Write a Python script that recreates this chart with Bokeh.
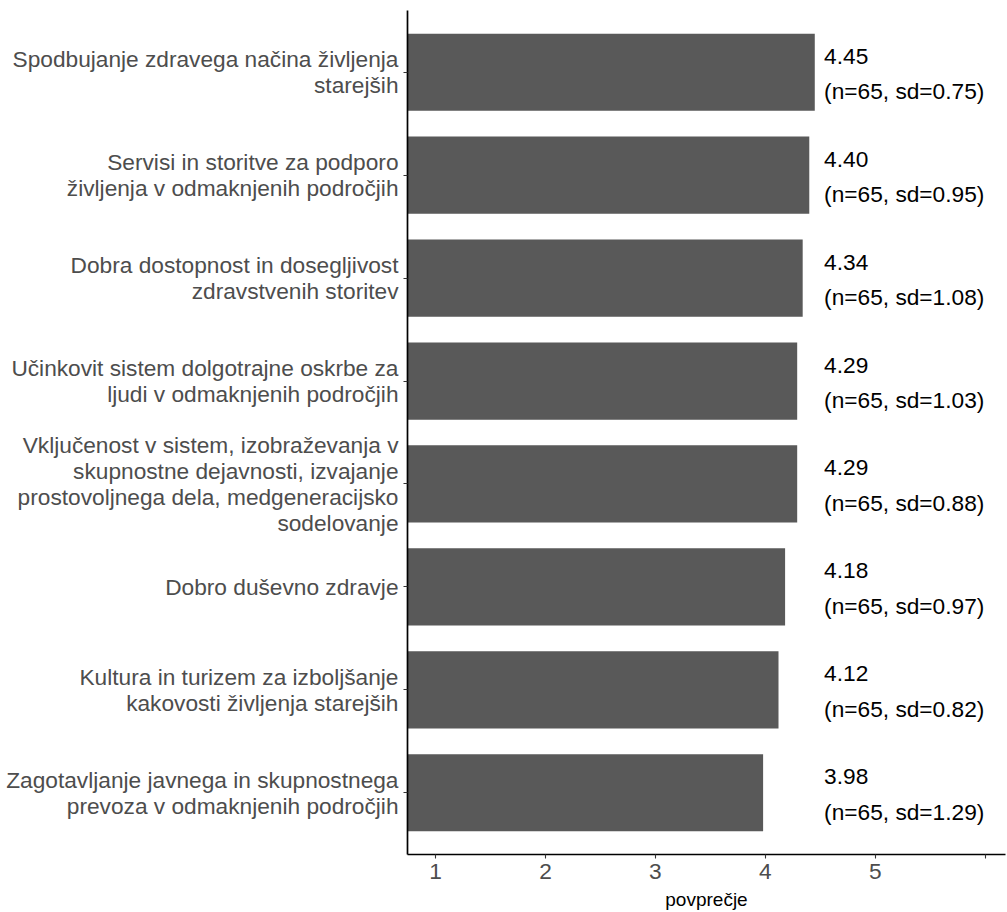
from bokeh.plotting import figure
from bokeh.models import ColumnDataSource, FixedTicker
from bokeh.embed import file_html
from bokeh.resources import INLINE
from bokeh.core.properties import value

categories = [
    "Spodbujanje zdravega načina življenja\nstarejših",
    "Servisi in storitve za podporo\nživljenja v odmaknjenih področjih",
    "Dobra dostopnost in dosegljivost\nzdravstvenih storitev",
    "Učinkovit sistem dolgotrajne oskrbe za\nljudi v odmaknjenih področjih",
    "Vključenost v sistem, izobraževanja v\nskupnostne dejavnosti, izvajanje\nprostovoljnega dela, medgeneracijsko\nsodelovanje",
    "Dobro duševno zdravje",
    "Kultura in turizem za izboljšanje\nkakovosti življenja starejših",
    "Zagotavljanje javnega in skupnostnega\nprevoza v odmaknjenih področjih",
]
means = [4.45, 4.40, 4.34, 4.29, 4.29, 4.18, 4.12, 3.98]
ns = [65, 65, 65, 65, 65, 65, 65, 65]
sds = [0.75, 0.95, 1.08, 1.03, 0.88, 0.97, 0.82, 1.29]
x_ticks = [1, 2, 3, 4, 5, 6]
x_tick_labels = ["1", "2", "3", "4", "5", ""]
x_title = "povprečje"
label_x = 4.535

FONT = "Liberation Sans"
k = len(categories)
ypos = [k - i for i in range(k)]

src = ColumnDataSource(dict(
    y=ypos,
    mean=means,
    lab_x=[label_x] * k,
    top_txt=[f"{m:.2f}" for m in means],
    bot_txt=[f"(n={n}, sd={s:.2f})" for n, s in zip(ns, sds)],
))

p = figure(width=1007, height=912, output_backend="svg", toolbar_location=None,
           x_range=(0.745, 6.185), y_range=(0.4, k + 0.6),
           min_border_left=407, min_border_right=2, min_border_top=10, min_border_bottom=58)
p.outline_line_color = None
p.background_fill_color = "white"
p.border_fill_color = "white"
p.grid.visible = False

p.hbar(y="y", left=0, right="mean", height=0.75, source=src,
       fill_color="#595959", line_color=None)

p.text(x="lab_x", y="y", text="top_txt", source=src, y_offset=-16,
       text_font=value(FONT), text_font_size="22.7px", text_color="black",
       text_align="left", text_baseline="middle")
p.text(x="lab_x", y="y", text="bot_txt", source=src, y_offset=19,
       text_font=value(FONT), text_font_size="22.7px", text_color="black",
       text_align="left", text_baseline="middle")

# y axis
ya = p.yaxis[0]
ya.ticker = FixedTicker(ticks=ypos)
ya.major_label_overrides = {y: c for y, c in zip(ypos, categories)}
ya.major_label_text_font = FONT
ya.major_label_text_font_size = "22.7px"
ya.major_label_text_color = "#4D4D4D"
ya.major_label_text_line_height = 1.0
ya.major_label_standoff = 5
ya.axis_line_color = "black"
ya.axis_line_width = 1.7
ya.major_tick_line_color = "#333333"
ya.major_tick_line_width = 1.1
ya.major_tick_out = 4
ya.major_tick_in = 0
ya.minor_tick_line_color = None

# x axis
xa = p.xaxis[0]
xa.ticker = FixedTicker(ticks=x_ticks)
xa.major_label_overrides = {t: l for t, l in zip(x_ticks, x_tick_labels)}
xa.major_label_text_font = FONT
xa.major_label_text_font_size = "22.7px"
xa.major_label_text_color = "#4D4D4D"
xa.major_label_standoff = 5
xa.axis_line_color = "black"
xa.axis_line_width = 1.7
xa.major_tick_line_color = "#333333"
xa.major_tick_line_width = 1.1
xa.major_tick_out = 4
xa.major_tick_in = 0
xa.minor_tick_line_color = None
xa.axis_label = x_title
xa.axis_label_text_font = FONT
xa.axis_label_text_font_size = "19px"
xa.axis_label_text_font_style = "normal"
xa.axis_label_text_color = "black"
xa.axis_label_standoff = 7

open("out.html", "w").write(file_html(p, INLINE))
